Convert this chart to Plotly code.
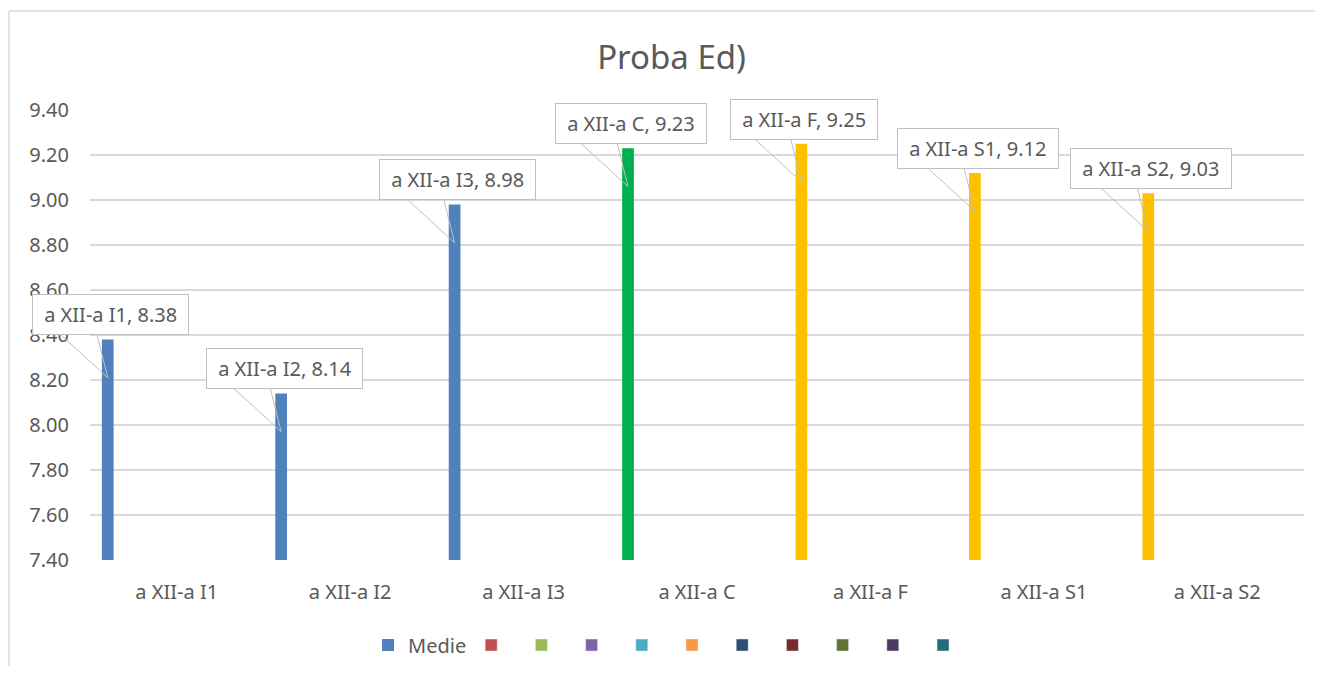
import plotly.graph_objects as go

categories = ["a XII-a I1", "a XII-a I2", "a XII-a I3", "a XII-a C", "a XII-a F", "a XII-a S1", "a XII-a S2"]
medie = [8.38, 8.14, 8.98, 9.23, 9.25, 9.12, 9.03]
bar_colors = ["#4F81BD", "#4F81BD", "#4F81BD", "#00B050", "#FFC000", "#FFC000", "#FFC000"]
series_name = "Medie"
empty_series_colors = ["#C0504D", "#9BBB59", "#8064A2", "#4BACC6", "#F79646",
                       "#2C4D75", "#772C2A", "#5F7530", "#4D3B62", "#276A7C"]
title_text = "Proba Ed)"
y_ticks = [7.40, 7.60, 7.80, 8.00, 8.20, 8.40, 8.60, 8.80, 9.00, 9.20, 9.40]

FONT = "Noto Sans"
GRAY = "#595959"
LINE = "#BFBFBF"

W, H = 1315, 658
ML, MR, MT, MB = 82, 19, 102, 106
PW = W - ML - MR
PH = H - MT - MB

fig = go.Figure()
fig.add_trace(go.Bar(x=categories, y=medie, name=series_name,
                     marker=dict(color=bar_colors, line=dict(width=0)),
                     legendrank=1))
for i, c in enumerate(empty_series_colors):
    fig.add_trace(go.Bar(x=categories, y=[None] * len(categories), name=" ",
                         marker=dict(color=c), showlegend=True, legendrank=2 + i))

# callout labels (wedge drawn as two leader lines + boxed text)
n_series = 1 + len(empty_series_colors)
bargap = 0.125
slot = (1 - bargap) / n_series
offset = -0.5 + bargap / 2 + slot / 2
for i, (cat, v) in enumerate(zip(categories, medie)):
    tip_x, tip_y = i + offset, v - 0.17
    for tail_dx in (-48, -11):
        fig.add_annotation(
            x=tip_x, y=tip_y, xref="x", yref="y", text="",
            showarrow=True, arrowhead=0, arrowwidth=1, arrowcolor=LINE,
            ax=tail_dx, ay=-44, axref="pixel", ayref="pixel",
            borderpad=0, borderwidth=0,
        )
    fig.add_annotation(
        x=tip_x, y=tip_y, xref="x", yref="y",
        text=f"\u00a0{cat}, {v:.2f}\u00a0",
        showarrow=False, xshift=3, yshift=63,
        bgcolor="white", bordercolor=LINE, borderwidth=1, borderpad=6,
        font=dict(family=FONT, size=20, color=GRAY),
    )

# chart border (left and top)
x0 = (1 - ML) / PW
ytop = (PH + MT - 3) / PH
fig.add_shape(type="line", xref="paper", yref="paper", x0=x0, x1=x0, y0=-1, y1=ytop,
              line=dict(color="#D9D9D9", width=1.5))
fig.add_shape(type="line", xref="paper", yref="paper", x0=x0, x1=1.2, y0=ytop, y1=ytop,
              line=dict(color="#D9D9D9", width=1.5))

fig.update_layout(
    width=W, height=H,
    margin=dict(l=ML, r=MR, t=MT, b=MB, pad=0, autoexpand=False),
    paper_bgcolor="white", plot_bgcolor="white",
    barmode="group", bargap=bargap, bargroupgap=0.15,
    title=dict(text=title_text, x=0.5046, xanchor="center", y=1 - 49 / H, yanchor="middle",
               font=dict(family=FONT, size=33, color=GRAY)),
    font=dict(family=FONT, color=GRAY),
    xaxis=dict(type="category", range=[-0.5, len(categories) - 0.5],
               showgrid=False, zeroline=False, showline=False,
               ticks="", ticklabelstandoff=18,
               tickfont=dict(family=FONT, size=20, color=GRAY)),
    yaxis=dict(range=[7.40, 9.40], tickvals=y_ticks, tickformat=".2f",
               showgrid=True, gridcolor="#D9D9D9", gridwidth=1.5,
               zeroline=False, showline=False, ticks="", ticklabelstandoff=20,
               tickfont=dict(family=FONT, size=20, color=GRAY)),
    legend=dict(orientation="h", x=0.4786, xanchor="center", y=-0.189, yanchor="middle",
                font=dict(family=FONT, size=20, color=GRAY), traceorder="normal",
                itemwidth=30),
    showlegend=True,
)

fig.write_html("out.html")
